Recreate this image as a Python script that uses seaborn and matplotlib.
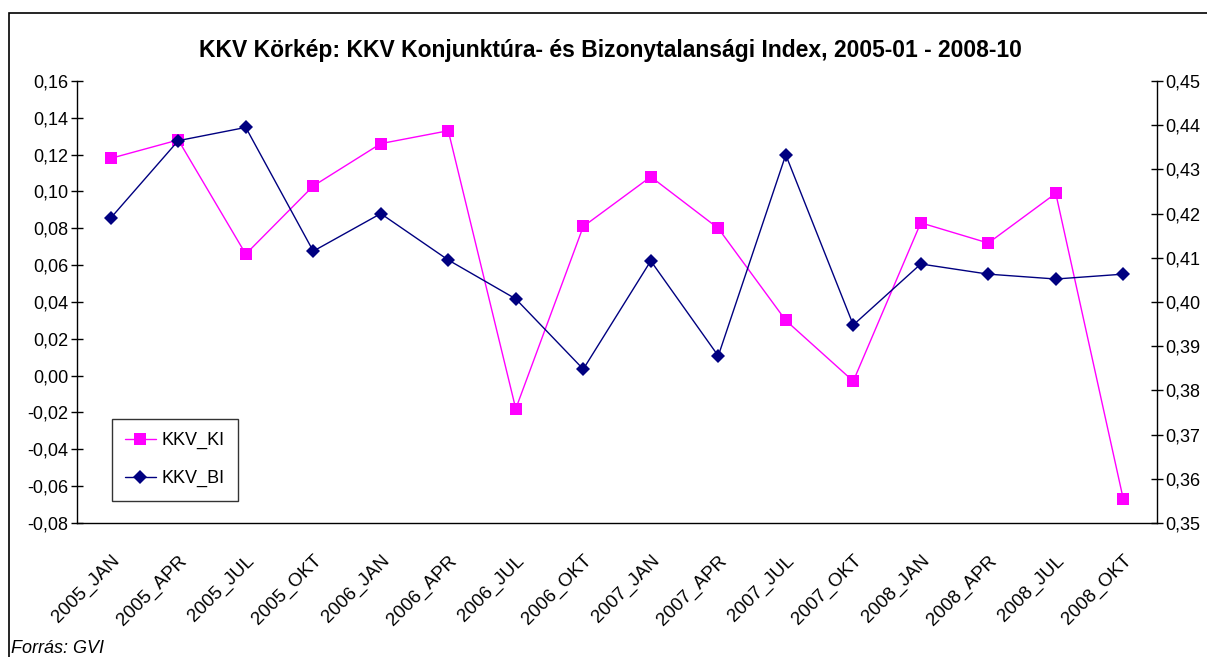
import pandas as pd
import matplotlib.pyplot as plt
import matplotlib.ticker as mticker
from matplotlib.lines import Line2D
from matplotlib.patches import Rectangle
import seaborn as sns

# Data
periods = ["2005_JAN", "2005_APR", "2005_JUL", "2005_OKT",
           "2006_JAN", "2006_APR", "2006_JUL", "2006_OKT",
           "2007_JAN", "2007_APR", "2007_JUL", "2007_OKT",
           "2008_JAN", "2008_APR", "2008_JUL", "2008_OKT"]
kkv_ki = [0.118, 0.128, 0.066, 0.103, 0.126, 0.133, -0.018, 0.081,
          0.108, 0.080, 0.030, -0.003, 0.083, 0.072, 0.099, -0.067]
kkv_bi = [0.419, 0.4365, 0.4395, 0.4115, 0.420, 0.4095, 0.4007, 0.3848,
          0.4093, 0.3878, 0.4333, 0.3948, 0.4086, 0.4063, 0.4052, 0.4063]

df = pd.DataFrame({"idx": range(len(periods)), "period": periods,
                   "KKV_KI": kkv_ki, "KKV_BI": kkv_bi})

sns.set_style("white")
plt.rcParams["font.family"] = ["Liberation Sans", "DejaVu Sans"]
plt.rcParams["text.color"] = "black"
plt.rcParams["xtick.color"] = "black"
plt.rcParams["ytick.color"] = "black"

fig = plt.figure(figsize=(12.07, 6.57), dpi=100)
ax = fig.add_axes([0.0638, 0.204, 0.8948, 0.6727])
ax2 = ax.twinx()

sns.lineplot(data=df, x="idx", y="KKV_KI", ax=ax, color="#ff00ff", lw=1,
             marker="s", markersize=8, markeredgewidth=0, label="KKV_KI")
sns.lineplot(data=df, x="idx", y="KKV_BI", ax=ax2, color="#000080", lw=1,
             marker="D", markersize=7, markeredgewidth=0, label="KKV_BI")

ax.set_xlim(-0.5, len(periods) - 0.5)
ax.set_ylim(-0.08, 0.16)
ax2.set_ylim(0.35, 0.45)
ax.yaxis.set_major_locator(mticker.MultipleLocator(0.02))
ax2.yaxis.set_major_locator(mticker.MultipleLocator(0.01))
comma = mticker.FuncFormatter(lambda v, p: f"{v:.2f}".replace(".", ","))
ax.yaxis.set_major_formatter(comma)
ax2.yaxis.set_major_formatter(comma)

# category ticks sit between the points, labels at the points
ax.set_xticks([i + 0.5 for i in range(len(periods))])
ax.set_xticklabels([])
ax.set_xticks(range(len(periods)), minor=True)
ax.set_xticklabels(periods, minor=True, rotation=45, ha="right",
                   rotation_mode="anchor", fontsize=13.5)
ax.tick_params(axis="x", which="minor", length=0, pad=21)
ax.tick_params(axis="x", which="major", length=8, direction="inout", width=1)
ax.tick_params(axis="y", length=8, direction="inout", width=1, labelsize=13, pad=2)
ax2.tick_params(axis="y", length=8, direction="inout", width=1, labelsize=13, pad=2)

ax.set_xlabel("")
ax.set_ylabel("")
ax2.set_ylabel("")
for a in (ax, ax2):
    a.spines["top"].set_visible(False)
    for s in ("left", "right", "bottom"):
        a.spines[s].set_color("black")
        a.spines[s].set_linewidth(1)
ax.spines["right"].set_visible(False)
ax2.spines["left"].set_visible(False)
ax2.spines["bottom"].set_visible(False)

ax.get_legend().remove()
ax2.get_legend().remove()
handles = [Line2D([], [], color="#ff00ff", lw=1, marker="s", markersize=8, markeredgewidth=0),
           Line2D([], [], color="#000080", lw=1, marker="D", markersize=7, markeredgewidth=0)]
ax2.legend(handles, ["KKV_KI", "KKV_BI"], loc="lower left",
           bbox_to_anchor=(0.032, 0.05), fontsize=13, frameon=True,
           fancybox=False, edgecolor="black", handlelength=1.7,
           labelspacing=1.15, borderpad=0.75, handletextpad=0.3,
           borderaxespad=0)

fig.text(0.506, 1 - 50 / 657, "KKV Körkép: KKV Konjunktúra- és Bizonytalansági Index, 2005-01 - 2008-10",
         ha="center", va="center", fontsize=16.5, fontweight="bold")
fig.text(0.009, 0.006, "Forrás: GVI", fontsize=13, style="italic")

# outer chart frame (right edge runs off the image, as in the original)
fig.add_artist(Rectangle((0.0075, -0.01), 1.0, 0.99, transform=fig.transFigure,
                         fill=False, edgecolor="black", lw=1.2))

fig.savefig("out.png", dpi=100)
plt.close()
